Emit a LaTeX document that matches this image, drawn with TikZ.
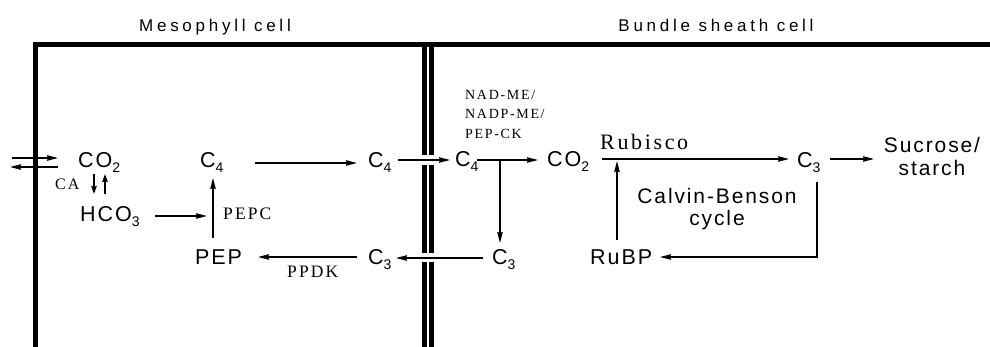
\documentclass[tikz,border=0pt]{standalone}
\usepackage{fontspec}
\setmainfont{Liberation Sans}
\newfontfamily\lblfont[LetterSpace=9]{Liberation Sans}
\newfontfamily\hdrfont[LetterSpace=22]{Liberation Sans}
\newfontfamily\enzfont[LetterSpace=12]{Liberation Serif}
\newfontfamily\rubfont[LetterSpace=12]{Liberation Serif}
\usetikzlibrary{arrows.meta,calc}
\newcommand\lowsub[1]{\raisebox{-5pt}{\fontsize{14}{14}\selectfont #1}}
\tikzset{
  lbl/.style={font=\lblfont\fontsize{21.5}{24}\selectfont, inner sep=0pt, anchor=base west},
  hdr/.style={font=\hdrfont\fontsize{17}{20}\selectfont, inner sep=0pt, anchor=base},
  enz/.style={font=\enzfont\fontsize{17.5}{19}\selectfont, inner sep=0pt, anchor=base west},
  wall/.style={line width=5pt},
  arr/.style={line width=1.3pt, -{Stealth[length=11pt,width=5.5pt,inset=1pt]}},
  carr/.style={line width=2pt, -{Stealth[length=8pt,width=5.5pt,inset=1pt]}},
  plain/.style={line width=1.3pt}
}
\begin{document}
\begin{tikzpicture}[x=1pt,y=-1pt]
\useasboundingbox (0,0) rectangle (990,347);
% walls
\draw[wall] (33,44.5) -- (990,44.5);
\draw[wall] (35,42) -- (35,347);
\draw[wall] (424.5,42) -- (424.5,155) (424.5,165) -- (424.5,253) (424.5,262) -- (424.5,347);
\draw[wall] (431.5,42) -- (431.5,155) (431.5,165) -- (431.5,253) (431.5,262) -- (431.5,347);
% headers
\node[hdr] (meso) at (215,32) {Mesophyll cell};
\node[hdr] (bundle) at (716,32) {Bundle sheath cell};
% mesophyll labels
\node[lbl] (co2l) at (78,168) {CO\lowsub{2}};
\node[enz, font=\enzfont\fontsize{16}{18}\selectfont] (ca) at (55,190) {CA};
\node[lbl] (hco3) at (80,222) {HCO\lowsub{3}};
\node[lbl] (c4l) at (200,168) {C\lowsub{4}};
\node[enz] (pepc) at (223,220) {PEPC};
\node[lbl] (pep) at (195,265) {PEP};
\node[enz] (ppdk) at (287,278) {PPDK};
\node[lbl] (c4m) at (368,168) {C\lowsub{4}};
\node[lbl] (c3m) at (368,265) {C\lowsub{3}};
% bundle sheath labels
\node[lbl] (c4b) at (455,167) {C\lowsub{4}};
\node[lbl] (c3b) at (492,265) {C\lowsub{3}};
\node[lbl] (co2b) at (547,167) {CO\lowsub{2}};
\node[font=\enzfont\fontsize{14}{19.5}\selectfont, inner sep=0pt, anchor=north west, align=left] (nad) at (465,90) {NAD-ME/\\NADP-ME/\\PEP-CK};
\node[font=\rubfont\fontsize{22}{24}\selectfont, inner sep=0pt, anchor=base west] (rub) at (600,150) {Rubisco};
\node[lbl] (c3r) at (797,168) {C\lowsub{3}};
\node[font=\lblfont\fontsize{21}{23}\selectfont, inner sep=0pt, align=center] (suc) at (932,156) {Sucrose/\\starch};
\node[font=\lblfont\fontsize{21}{22}\selectfont, inner sep=0pt, align=center] (calvin) at (717,209) {Calvin-Benson\\cycle};
\node[lbl] (rubp) at (590,265) {RuBP};
% connectors
\draw[arr] ($(co2l.base west)+(-66,-10)$) -- ($(co2l.base west)+(-20,-10)$);
\draw[arr] ($(co2l.base west)+(-20,-1)$) -- ($(co2l.base west)+(-68,-1)$);
\draw[carr] ($(co2l.base west)+(16,6)$) -- ($(hco3.base west)+(14,-28)$);
\draw[carr] ($(hco3.base west)+(25,-28)$) -- ($(co2l.base west)+(27,6)$);
\draw[arr] ($(hco3.base west)+(75,-6)$) -- ($(pep.base west)+(12,-49)$);
\draw[arr] ($(pep.base west)+(18,-27)$) -- ($(c4l.base west)+(13,10)$);
\draw[arr] ($(c4l.base west)+(55,-5)$) -- ($(c4m.base west)+(-11,-5)$);
\draw[arr] ($(c4m.base west)+(30,-8)$) -- ($(c4b.base west)+(-5,-7)$);
\coordinate (br) at ($(c4b.base west)+(45,-7)$);
\draw[arr] ($(c4b.base west)+(22,-7)$) -- ($(co2b.base west)+(-9,-7)$);
\draw[arr] (br) -- ($(c3b.base west)+(8,-22)$);
\draw[arr] ($(c3b.base west)+(-9,-7)$) -- ($(c3m.base west)+(28,-7)$);
\draw[arr] ($(c3m.base west)+(-11,-8)$) -- ($(pep.base west)+(63,-8)$);
\draw[arr] ($(co2b.base west)+(55,-8)$) -- ($(c3r.base west)+(-8,-9)$);
\draw[arr] ($(rubp.base west)+(27,-25)$) -- ($(rub.base west)+(17,11)$);
\draw[arr] ($(c3r.base west)+(33,-9)$) -- ($(suc.center)+(-58,3)$);
\draw[arr] ($(c3r.base west)+(20,14)$) |- ($(rubp.base west)+(70,-8)$);
\end{tikzpicture}
\end{document}
